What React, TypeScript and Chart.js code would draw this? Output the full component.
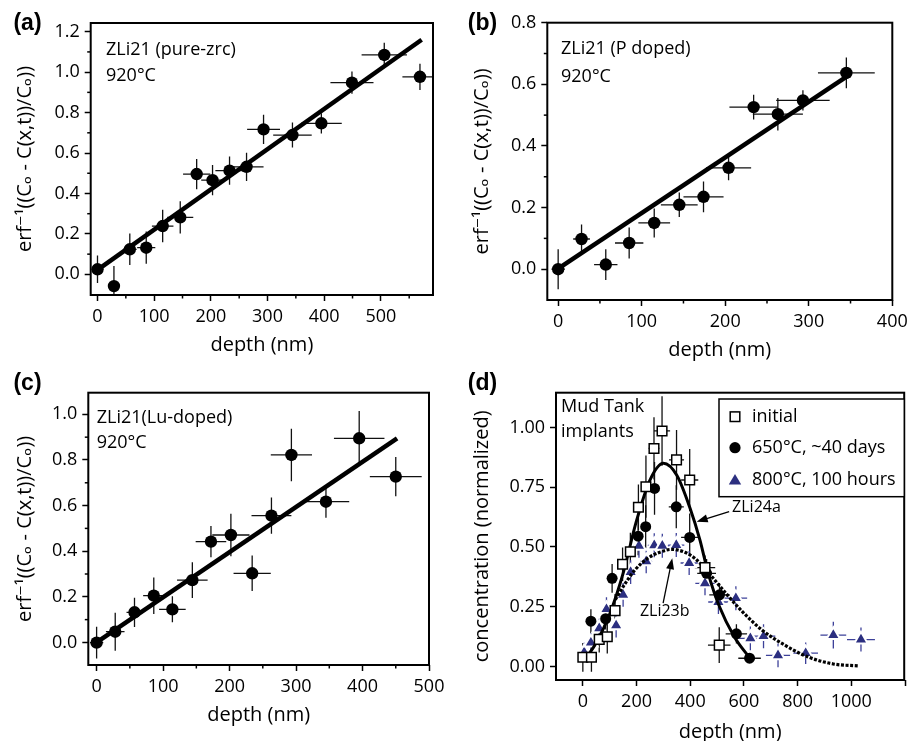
import { useEffect, useRef } from 'react';
import { Chart, registerables } from 'chart.js';

Chart.register(...registerables);

const FONT = "'Open Sans', 'DejaVu Sans', sans-serif";
const NAVY = '#2c2f80';
const NAVY_BAR = '#3d4199';
const ERF_TITLE = 'erf⁻¹((Cₒ - C(x,t))/Cₒ))';

// (a) ZLi21 pure zircon, 920°C
const depthA = [0, 29, 57, 86, 115, 146, 175, 203, 233, 263, 293, 344, 395, 449, 506, 569];
const erfA = [0.025, -0.058, 0.124, 0.132, 0.239, 0.282, 0.496, 0.466, 0.513, 0.532, 0.717, 0.689, 0.747, 0.948, 1.085, 0.977];
const depthErrA = [9, 5, 12, 16, 19, 23, 24, 20, 25, 30, 29, 34, 36, 38, 40, 31];
const erfErrA = [0.068, 0.1, 0.078, 0.08, 0.08, 0.08, 0.075, 0.075, 0.07, 0.07, 0.072, 0.062, 0.05, 0.055, 0.06, 0.065];
const fitDepthA = [0, 572];
const fitErfA = [0.022, 1.16];
const xTicksA = [0, 100, 200, 300, 400, 500];
const xMinorA = [50, 150, 250, 350, 450, 550];
const yTicksA = [0, 0.2, 0.4, 0.6, 0.8, 1.0, 1.2];
const yMinorA = [0.1, 0.3, 0.5, 0.7, 0.9, 1.1];

// (b) ZLi21 P doped, 920°C
const depthB = [0, 28, 57, 85, 115, 145, 174, 204, 234, 263, 293, 345];
const erfB = [0, 0.098, 0.015, 0.085, 0.15, 0.209, 0.235, 0.329, 0.526, 0.503, 0.548, 0.637];
const depthErrB = [8, 10, 14, 17, 19, 22, 24, 27, 29, 30, 32, 34];
const erfErrB = [0.065, 0.047, 0.05, 0.05, 0.047, 0.04, 0.05, 0.04, 0.04, 0.053, 0.033, 0.05];
const fitDepthB = [0, 348];
const fitErfB = [0.002, 0.63];
const xTicksB = [0, 100, 200, 300, 400];
const xMinorB = [50, 150, 250, 350];
const yTicksB = [0, 0.2, 0.4, 0.6, 0.8];
const yMinorB = [0.1, 0.3, 0.5, 0.7];

// (c) ZLi21 Lu doped, 920°C
const depthC = [0, 28, 57, 86, 114, 144, 172, 202, 234, 263, 293, 345, 395, 450];
const erfC = [-0.001, 0.047, 0.132, 0.205, 0.145, 0.273, 0.442, 0.471, 0.303, 0.556, 0.822, 0.617, 0.895, 0.727];
const depthErrC = [10, 14, 12, 16, 20, 23, 23, 28, 28, 30, 31, 35, 38, 39];
const erfErrC = [0.07, 0.083, 0.064, 0.08, 0.057, 0.078, 0.068, 0.093, 0.078, 0.08, 0.115, 0.07, 0.12, 0.086];
const fitDepthC = [0, 452];
const fitErfC = [0.0, 0.895];
const xTicksC = [0, 100, 200, 300, 400, 500];
const xMinorC = [50, 150, 250, 350, 450];
const yTicksC = [0, 0.2, 0.4, 0.6, 0.8, 1.0];
const yMinorC = [0.1, 0.3, 0.5, 0.7, 0.9];

// (d) Mud Tank implants
const initDepthD = [0, 32, 61, 91, 120, 148, 177, 207, 235, 265, 295, 349, 398, 455, 508];
const initConcD = [0.039, 0.039, 0.114, 0.125, 0.234, 0.428, 0.48, 0.666, 0.752, 0.912, 0.985, 0.864, 0.78, 0.414, 0.09];
const initDepthErrD = [5, 6, 8, 10, 14, 15, 15, 18, 18, 20, 30, 28, 32, 38, 42];
const initConcErrD = [0.06, 0.06, 0.055, 0.07, 0.07, 0.07, 0.08, 0.095, 0.13, 0.13, 0.145, 0.125, 0.13, 0.05, 0.075];

const c650DepthD = [30, 85, 109, 206, 234, 267, 348, 398, 461, 509, 572, 621];
const c650ConcD = [0.19, 0.2, 0.369, 0.545, 0.585, 0.745, 0.668, 0.54, 0.39, 0.3, 0.137, 0.035];
const c650DepthErrD = [8, 10, 12, 16, 18, 20, 28, 32, 35, 38, 40, 42];
const c650ConcErrD = [0.05, 0.06, 0.06, 0.08, 0.09, 0.11, 0.09, 0.1, 0.06, 0.05, 0.04, 0.02];

const c800DepthD = [5, 30, 61, 88, 124, 150, 178, 209, 236, 266, 296, 348, 396, 455, 505, 570, 624, 673, 727, 830, 933, 1036];
const c800ConcD = [0.06, 0.1, 0.16, 0.24, 0.172, 0.3, 0.395, 0.505, 0.44, 0.507, 0.505, 0.508, 0.433, 0.348, 0.27, 0.286, 0.118, 0.127, 0.047, 0.056, 0.132, 0.113];
const c800DepthErrD = [5, 8, 10, 12, 14, 16, 18, 20, 22, 24, 26, 30, 32, 36, 38, 42, 42, 44, 45, 46, 48, 52];
const c800ConcErrD = [0.04, 0.04, 0.04, 0.05, 0.05, 0.05, 0.05, 0.05, 0.05, 0.05, 0.05, 0.05, 0.05, 0.05, 0.05, 0.05, 0.05, 0.05, 0.05, 0.045, 0.056, 0.05];

const fitDepth24a = [8, 50, 100, 150, 200, 250, 300, 350, 400, 436, 467, 509, 564, 622];
const fitConc24a = [0.03, 0.1, 0.22, 0.39, 0.61, 0.78, 0.85, 0.8, 0.66, 0.53, 0.39, 0.25, 0.125, 0.035];
const fitDepth23b = [121, 158, 194, 242, 291, 330, 380, 420, 455, 485, 533, 594, 667, 752, 835, 933, 1024];
const fitConc23b = [0.28, 0.348, 0.404, 0.453, 0.48, 0.49, 0.478, 0.45, 0.41, 0.37, 0.306, 0.23, 0.153, 0.09, 0.042, 0.011, 0.003];

const xTicksD = [0, 200, 400, 600, 800, 1000, 1200];
const xLabelsD = ['0', '200', '400', '600', '800', '1000', ''];
const yTicksD = [0, 0.25, 0.5, 0.75, 1.0];
const legendD = ['initial', '650°C, ~40 days', '800°C, 100 hours'];

const pts = (xs: number[], ys: number[]) => xs.map((x, i) => ({ x, y: ys[i] }));

const dotSeries = (xs: number[], ys: number[], ex: number[], ey: number[]) => ({
	data: pts(xs, ys),
	errX: ex,
	errY: ey,
	pointRadius: 6.2,
	pointBackgroundColor: '#000',
	pointBorderWidth: 0,
	order: 2,
});

const fitSeries = (xs: number[], ys: number[]) => ({
	type: 'line',
	data: pts(xs, ys),
	borderColor: '#000',
	borderWidth: 4.5,
	pointRadius: 0,
	showLine: true,
	fill: false,
	order: 1,
});

// error bars drawn under the markers
const errorBars = {
	id: 'errorBars',
	beforeDatasetsDraw(chart: any) {
		const { ctx, chartArea: a, scales } = chart;
		const x = scales.x;
		const y = scales.y;
		ctx.save();
		ctx.beginPath();
		ctx.rect(a.left, a.top, a.right - a.left, a.bottom - a.top);
		ctx.clip();
		chart.data.datasets.forEach((ds: any) => {
			if (!ds.errX) return;
			ctx.strokeStyle = ds.errColor || '#111';
			ctx.lineWidth = 1.3;
			ds.data.forEach((p: any, j: number) => {
				const px = x.getPixelForValue(p.x);
				const py = y.getPixelForValue(p.y);
				ctx.beginPath();
				ctx.moveTo(x.getPixelForValue(p.x - ds.errX[j]), py);
				ctx.lineTo(x.getPixelForValue(p.x + ds.errX[j]), py);
				ctx.moveTo(px, y.getPixelForValue(p.y - ds.errY[j]));
				ctx.lineTo(px, y.getPixelForValue(p.y + ds.errY[j]));
				ctx.stroke();
			});
		});
		ctx.restore();
	},
};

function arrow(ctx: CanvasRenderingContext2D, x0: number, y0: number, x1: number, y1: number) {
	const ang = Math.atan2(y1 - y0, x1 - x0);
	ctx.beginPath();
	ctx.moveTo(x0, y0);
	ctx.lineTo(x1 - 8 * Math.cos(ang), y1 - 8 * Math.sin(ang));
	ctx.stroke();
	ctx.beginPath();
	ctx.moveTo(x1, y1);
	ctx.lineTo(x1 - 11 * Math.cos(ang) + 4 * Math.sin(ang), y1 - 11 * Math.sin(ang) - 4 * Math.cos(ang));
	ctx.lineTo(x1 - 11 * Math.cos(ang) - 4 * Math.sin(ang), y1 - 11 * Math.sin(ang) + 4 * Math.cos(ang));
	ctx.closePath();
	ctx.fill();
}

function drawLegendD(chart: any) {
	const { ctx, chartArea: a } = chart;
	const bx = a.left + 163;
	const by = a.top + 6.3;
	ctx.fillStyle = '#fff';
	ctx.fillRect(bx, by, 185.3, 97.7);
	ctx.strokeStyle = '#000';
	ctx.lineWidth = 1.5;
	ctx.strokeRect(bx, by, 185.3, 97.7);
	const rows = [17.7, 48.7, 81];
	const mx = bx + 16;
	// open square
	ctx.lineWidth = 1.5;
	ctx.strokeRect(mx - 4.8, by + rows[0] - 4.8, 9.6, 9.6);
	// filled circle
	ctx.fillStyle = '#000';
	ctx.beginPath();
	ctx.arc(mx, by + rows[1], 5.6, 0, Math.PI * 2);
	ctx.fill();
	// triangle
	ctx.fillStyle = NAVY;
	ctx.beginPath();
	ctx.moveTo(mx, by + rows[2] - 6);
	ctx.lineTo(mx + 6.2, by + rows[2] + 4.5);
	ctx.lineTo(mx - 6.2, by + rows[2] + 4.5);
	ctx.closePath();
	ctx.fill();
	ctx.fillStyle = '#000';
	ctx.font = `18px ${FONT}`;
	ctx.textAlign = 'left';
	ctx.textBaseline = 'middle';
	legendD.forEach((t, i) => ctx.fillText(t, bx + 33, by + rows[i]));
}

function drawNotesD(chart: any) {
	const { ctx, scales } = chart;
	const X = (v: number) => scales.x.getPixelForValue(v);
	const Y = (v: number) => scales.y.getPixelForValue(v);
	ctx.fillStyle = '#000';
	ctx.strokeStyle = '#000';
	ctx.lineWidth = 1.3;
	ctx.font = `16px ${FONT}`;
	ctx.textBaseline = 'middle';
	ctx.textAlign = 'left';
	ctx.fillText('ZLi24a', X(556), Y(0.666));
	arrow(ctx, X(545), Y(0.648), X(424), Y(0.606));
	ctx.textAlign = 'center';
	ctx.fillText('ZLi23b', X(305), Y(0.23));
	arrow(ctx, X(299), Y(0.265), X(333), Y(0.453));
	drawLegendD(chart);
}

interface Note { text: string; dx: number; dy: number }

interface PanelSpec {
	left: number;
	top: number;
	width: number;
	height: number;
	area: { l: number; t: number; r: number; b: number };
	xMin: number;
	xMax: number;
	yMin: number;
	yMax: number;
	xTicks: number[];
	xLabels: string[];
	xMinor: number[];
	yTicks: number[];
	yDigits: number;
	yMinor: number[];
	yTitle: string;
	xTitlePad: number;
	tag: string;
	tagX: number;
	tagY: number;
	notes: Note[];
	datasets: any[];
	extra?: (chart: any) => void;
}

function decor(spec: PanelSpec) {
	return {
		id: 'decor',
		afterDraw(chart: any) {
			const { ctx, chartArea: a, scales } = chart;
			ctx.save();
			ctx.strokeStyle = '#000';
			ctx.lineWidth = 2;
			ctx.strokeRect(a.left, a.top, a.right - a.left, a.bottom - a.top);
			ctx.lineWidth = 1.5;
			spec.xMinor.forEach((v) => {
				const px = scales.x.getPixelForValue(v);
				ctx.beginPath();
				ctx.moveTo(px, a.bottom);
				ctx.lineTo(px, a.bottom + 3.5);
				ctx.stroke();
			});
			spec.yMinor.forEach((v) => {
				const py = scales.y.getPixelForValue(v);
				ctx.beginPath();
				ctx.moveTo(a.left, py);
				ctx.lineTo(a.left - 3.5, py);
				ctx.stroke();
			});
			ctx.fillStyle = '#000';
			ctx.textBaseline = 'middle';
			ctx.textAlign = 'center';
			ctx.font = "bold 23px 'Liberation Sans', Arial, sans-serif";
			ctx.fillText(spec.tag, spec.tagX, spec.tagY);
			ctx.textAlign = 'left';
			ctx.font = `18px ${FONT}`;
			spec.notes.forEach((n) => ctx.fillText(n.text, a.left + n.dx, a.top + n.dy));
			if (spec.extra) spec.extra(chart);
			ctx.restore();
		},
	};
}

function buildConfig(spec: PanelSpec): any {
	const grid = { drawOnChartArea: false, drawTicks: true, tickLength: 6, tickWidth: 1.5, tickColor: '#000' };
	return {
		type: 'scatter',
		data: { datasets: spec.datasets },
		options: {
			animation: false,
			responsive: true,
			maintainAspectRatio: false,
			events: [],
			layout: { padding: { left: 0, top: spec.area.t, right: spec.width - spec.area.r, bottom: 0 } },
			plugins: { legend: { display: false }, tooltip: { enabled: false } },
			scales: {
				x: {
					type: 'linear',
					bounds: 'data',
					min: spec.xMin,
					max: spec.xMax,
					afterBuildTicks: (s: any) => {
						s.ticks = spec.xTicks.map((v) => ({ value: v }));
					},
					afterFit: (s: any) => {
						s.height = spec.height - spec.area.b;
					},
					ticks: {
						autoSkip: false,
						maxRotation: 0,
						padding: 5,
						color: '#000',
						font: { family: FONT, size: 18 },
						callback: (_v: any, i: number) => spec.xLabels[i],
					},
					grid,
					border: { display: false },
					title: {
						display: true,
						text: 'depth (nm)',
						color: '#000',
						font: { family: FONT, size: 20 },
						padding: { top: 0, bottom: spec.xTitlePad },
					},
				},
				y: {
					type: 'linear',
					bounds: 'data',
					min: spec.yMin,
					max: spec.yMax,
					afterBuildTicks: (s: any) => {
						s.ticks = spec.yTicks.map((v) => ({ value: v }));
					},
					afterFit: (s: any) => {
						s.width = spec.area.l;
					},
					ticks: {
						autoSkip: false,
						padding: 5,
						color: '#000',
						font: { family: FONT, size: 18 },
						callback: (v: any) => Number(v).toFixed(spec.yDigits),
					},
					grid,
					border: { display: false },
					title: {
						display: true,
						text: spec.yTitle,
						color: '#000',
						font: { family: FONT, size: 20 },
						padding: { top: 13, bottom: 0 },
					},
				},
			},
		},
		plugins: [errorBars, decor(spec)],
	};
}

const labels = (v: number[]) => v.map(String);

const panels: PanelSpec[] = [
	{
		left: 0, top: 0, width: 457, height: 370,
		area: { l: 90.7, t: 23, r: 433, b: 295 },
		xMin: -12, xMax: 592, yMin: -0.102, yMax: 1.243,
		xTicks: xTicksA, xLabels: labels(xTicksA), xMinor: xMinorA,
		yTicks: yTicksA, yDigits: 1, yMinor: yMinorA,
		yTitle: ERF_TITLE, xTitlePad: 13,
		tag: '(a)', tagX: 27.5, tagY: 24,
		notes: [{ text: 'ZLi21 (pure-zrc)', dx: 15.3, dy: 27 }, { text: '920°C', dx: 15.3, dy: 53 }],
		datasets: [fitSeries(fitDepthA, fitErfA), dotSeries(depthA, erfA, depthErrA, erfErrA)],
	},
	{
		left: 457, top: 0, width: 457, height: 370,
		area: { l: 90.3, t: 22.7, r: 435.3, b: 300 },
		xMin: -13, xMax: 400, yMin: -0.1, yMax: 0.8,
		xTicks: xTicksB, xLabels: labels(xTicksB), xMinor: xMinorB,
		yTicks: yTicksB, yDigits: 1, yMinor: yMinorB,
		yTitle: ERF_TITLE, xTitlePad: 8,
		tag: '(b)', tagX: 25.5, tagY: 24,
		notes: [{ text: 'ZLi21 (P doped)', dx: 13.7, dy: 26.3 }, { text: '920°C', dx: 13.7, dy: 54 }],
		datasets: [fitSeries(fitDepthB, fitErfB), dotSeries(depthB, erfB, depthErrB, erfErrB)],
	},
	{
		left: 0, top: 370, width: 457, height: 371,
		area: { l: 88.3, t: 22.7, r: 429, b: 295 },
		xMin: -12.5, xMax: 500, yMin: -0.099, yMax: 1.095,
		xTicks: xTicksC, xLabels: labels(xTicksC), xMinor: xMinorC,
		yTicks: yTicksC, yDigits: 1, yMinor: yMinorC,
		yTitle: ERF_TITLE, xTitlePad: 14,
		tag: '(c)', tagX: 27.5, tagY: 13.5,
		notes: [{ text: 'ZLi21(Lu-doped)', dx: 8.4, dy: 25.6 }, { text: '920°C', dx: 8.4, dy: 50 }],
		datasets: [fitSeries(fitDepthC, fitErfC), dotSeries(depthC, erfC, depthErrC, erfErrC)],
	},
	{
		left: 457, top: 370, width: 457, height: 380,
		area: { l: 99, t: 22.7, r: 455.3, b: 310 },
		xMin: -100, xMax: 1197, yMin: -0.056, yMax: 1.145,
		xTicks: xTicksD, xLabels: xLabelsD, xMinor: [],
		yTicks: yTicksD, yDigits: 2, yMinor: [],
		yTitle: 'concentration (normalized)', xTitlePad: 6,
		tag: '(d)', tagX: 25.5, tagY: 14,
		notes: [{ text: 'Mud Tank', dx: 5, dy: 14 }, { text: 'implants', dx: 5, dy: 39 }],
		extra: drawNotesD,
		datasets: [
			{
				data: pts(initDepthD, initConcD),
				errX: initDepthErrD,
				errY: initConcErrD,
				pointStyle: 'rect',
				pointRadius: 6.8,
				pointBackgroundColor: '#fff',
				pointBorderColor: '#000',
				pointBorderWidth: 1.5,
				order: 0,
			},
			{
				data: pts(c650DepthD, c650ConcD),
				errX: c650DepthErrD,
				errY: c650ConcErrD,
				pointRadius: 5.5,
				pointBackgroundColor: '#000',
				pointBorderWidth: 0,
				order: 1,
			},
			{
				type: 'line',
				data: pts(fitDepth24a, fitConc24a),
				borderColor: '#000',
				borderWidth: 3,
				pointRadius: 0,
				showLine: true,
				fill: false,
				cubicInterpolationMode: 'monotone',
				order: 2,
			},
			{
				type: 'line',
				data: pts(fitDepth23b, fitConc23b),
				borderColor: '#000',
				borderWidth: 3.2,
				borderDash: [3, 1.6],
				pointRadius: 0,
				showLine: true,
				fill: false,
				cubicInterpolationMode: 'monotone',
				order: 3,
			},
			{
				data: pts(c800DepthD, c800ConcD),
				errX: c800DepthErrD,
				errY: c800ConcErrD,
				errColor: NAVY_BAR,
				pointStyle: 'triangle',
				pointRadius: 7.8,
				pointBackgroundColor: NAVY,
				pointBorderColor: '#fff',
				pointBorderWidth: 2,
				order: 4,
			},
		],
	},
];

function Panel({ spec }: { spec: PanelSpec }) {
	const canvasRef = useRef<HTMLCanvasElement | null>(null);

	useEffect(() => {
		const ctx = canvasRef.current?.getContext('2d');
		if (!ctx) return;
		const chart = new Chart(ctx, buildConfig(spec));
		return () => {
			chart.destroy();
		};
	}, [spec]);

	return (
		<div style={{ position: 'absolute', left: spec.left, top: spec.top, width: spec.width, height: spec.height }}>
			<canvas ref={canvasRef}></canvas>
		</div>
	);
}

export default function App() {
	return (
		<div
			style={{
				position: 'absolute',
				left: 0,
				top: 0,
				width: 914,
				height: 741,
				overflow: 'hidden',
				background: '#fff',
			}}
		>
			{panels.map((p) => (
				<Panel key={p.tag} spec={p} />
			))}
		</div>
	);
}
